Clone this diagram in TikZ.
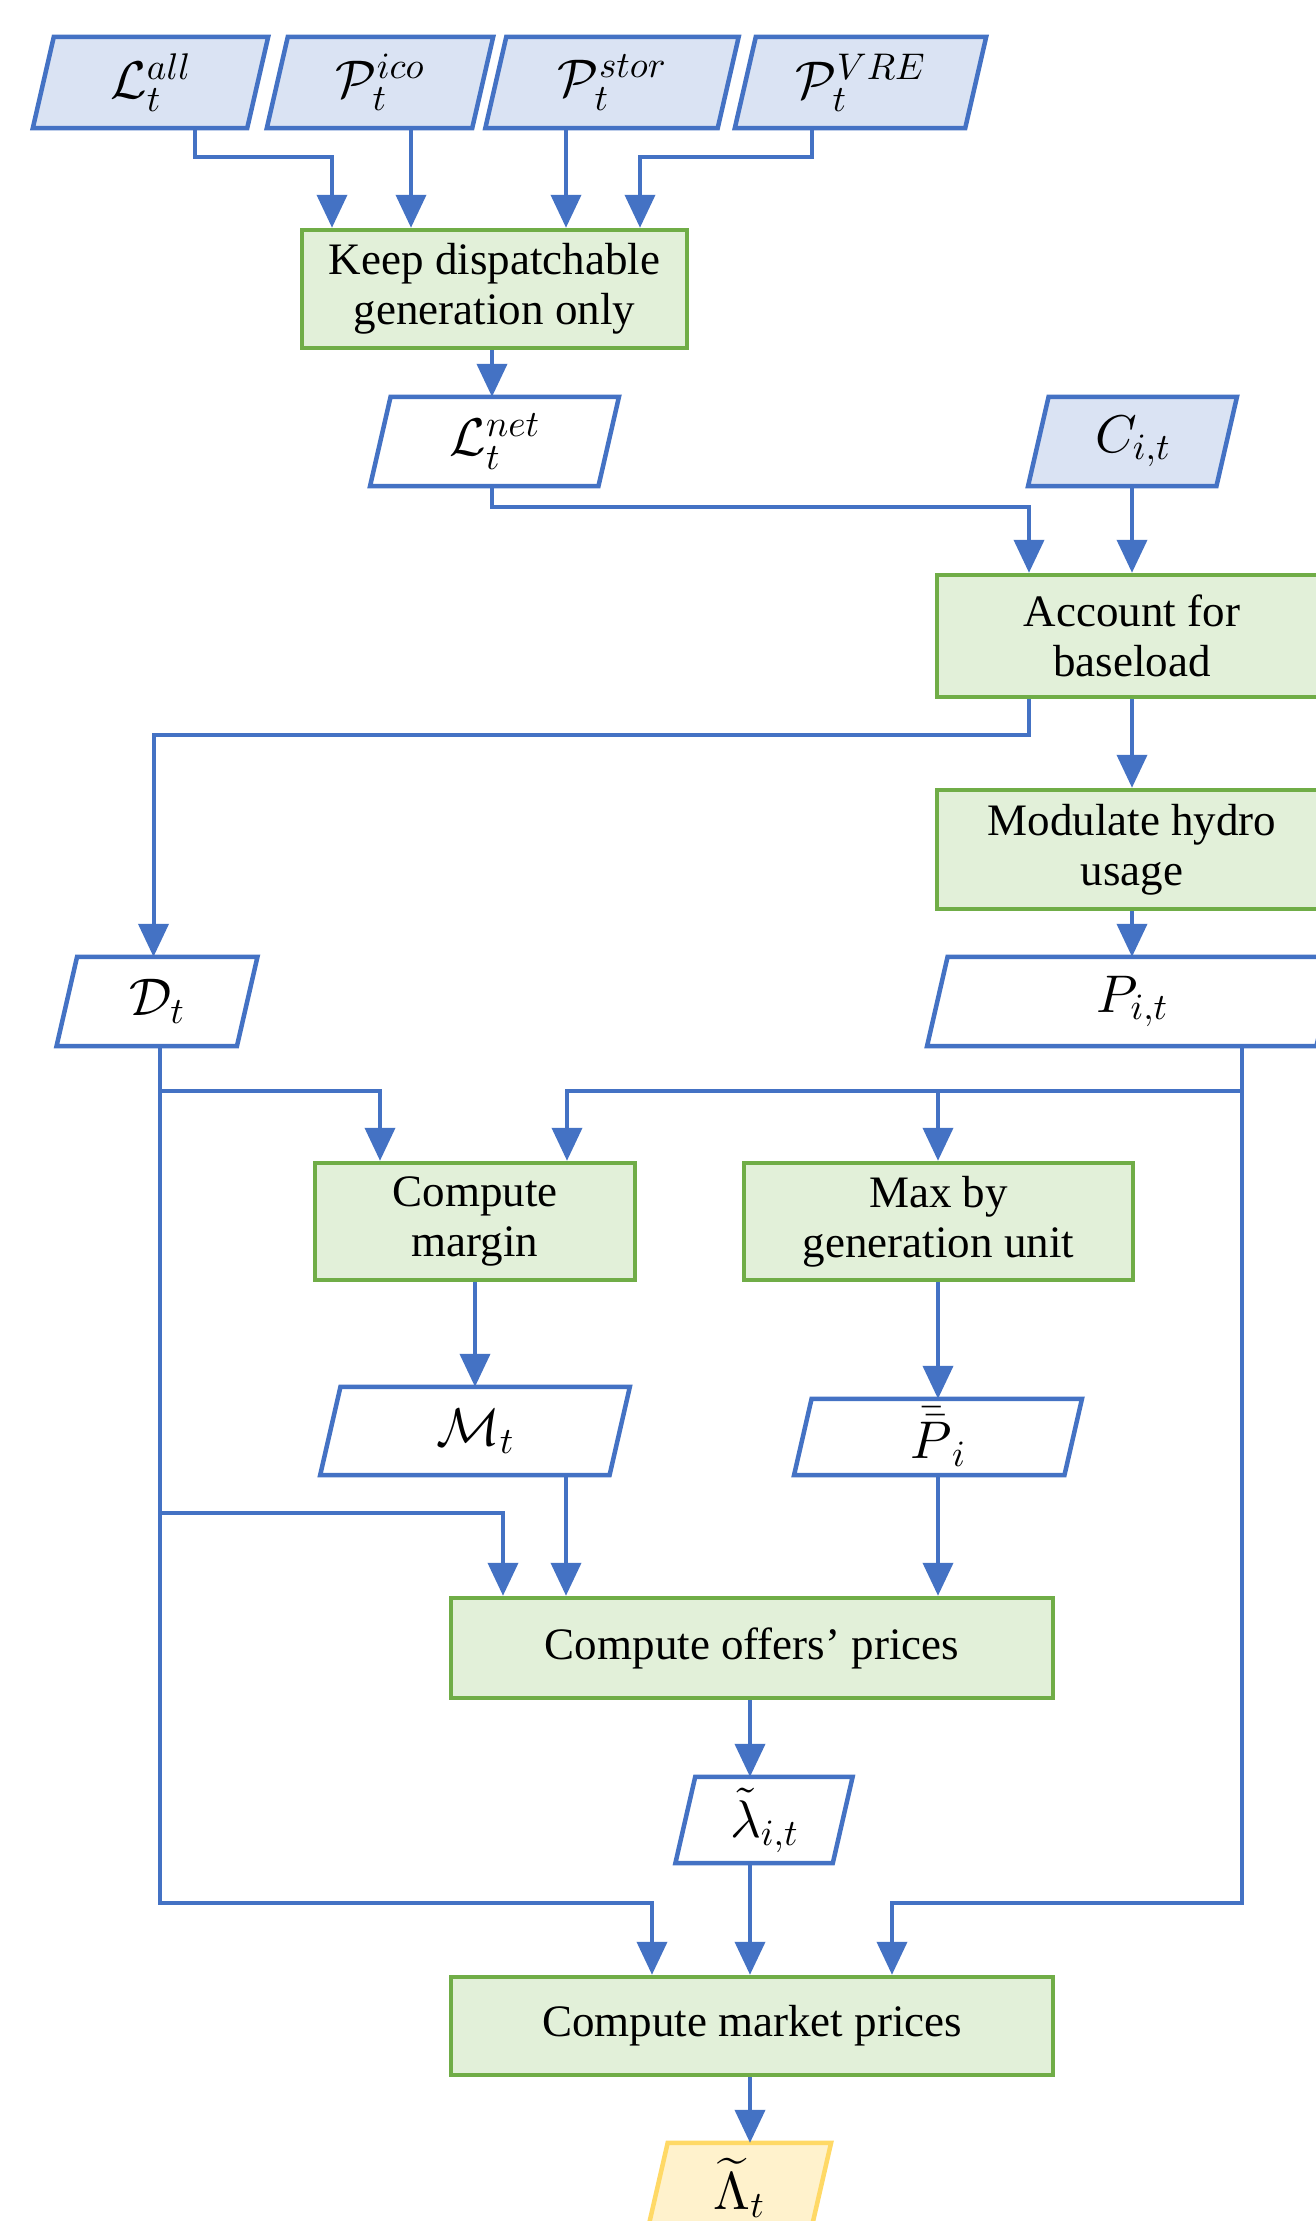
\documentclass[tikz,border=0pt]{standalone}
\DeclareFontShape{OML}{cmm}{m}{it}{<->cmmi10}{}
\DeclareFontShape{OMS}{cmsy}{m}{n}{<->cmsy10}{}
\DeclareFontShape{OT1}{cmr}{m}{n}{<->cmr10}{}
\DeclareFontShape{OMX}{cmex}{m}{n}{<->cmex10}{}
\usepackage{fontspec}
\setmainfont{Liberation Serif}
\usetikzlibrary{arrows.meta}
\definecolor{cblue}{HTML}{4472C4}
\definecolor{lblue}{HTML}{DAE3F3}
\definecolor{cgreen}{HTML}{70AD47}
\definecolor{lgreen}{HTML}{E2F0D9}
\definecolor{cyellow}{HTML}{FFD966}
\definecolor{lyellow}{HTML}{FFF2CC}
\tikzset{
  txt/.style={inner sep=0pt, align=center, font=\fontsize{53}{58}\selectfont},
  conn/.style={draw=cblue, line width=4pt, -{Triangle[width=30pt,length=33pt]}},
  proc/.style={draw=cgreen, fill=lgreen, line width=4.5pt, inner sep=0pt, align=center, font=\fontsize{45}{50}\selectfont},
  inbox/.style={draw=cblue, fill=lblue, line width=4.5pt},
  outbox/.style={draw=cblue, fill=white, line width=4.5pt},
  finbox/.style={draw=cyellow, fill=lyellow, line width=4.5pt},
}
\newcommand\paranode[7]{%
  \path (#2,#3) coordinate (#1-c);
  \node[inner sep=0pt, minimum width=#4pt, minimum height=#5pt] (#1) at (#1-c) {};
  \draw[#6] ([xshift={-0.1154*#5}]#1.south west) -- ([xshift={-0.1154*#5}]#1.south east)
     -- ([xshift={0.1154*#5}]#1.north east) -- ([xshift={0.1154*#5}]#1.north west) -- cycle;
  \node[txt] (#1-t) at (#1-c) {#7};
}
\begin{document}
\begin{tikzpicture}[x=1pt,y=-1pt]
\useasboundingbox (0,0) rectangle (1315,2221);
\fill[white] (0,0) rectangle (1315,2221);
% columns
\coordinate (cA) at (194.5,0);
\coordinate (cB) at (332,0);
\coordinate (cC) at (411,0);
\coordinate (cD) at (566,0);
\coordinate (cE) at (812,0);
\coordinate (cF) at (640,0);
\coordinate (cG) at (492,0);
\coordinate (cH) at (1029,0);
\coordinate (cI) at (1132,0);
\coordinate (cJ) at (153.5,0);
\coordinate (cK) at (159.5,0);
\coordinate (cL) at (380,0);
\coordinate (cM) at (567,0);
\coordinate (cN) at (938,0);
\coordinate (cO) at (1242,0);
\coordinate (cP) at (475,0);
\coordinate (cQ) at (566,0);
\coordinate (cR) at (503,0);
\coordinate (cS) at (750,0);
\coordinate (cT) at (652,0);
\coordinate (cU) at (892,0);
% rows
\coordinate (r1) at (0,157);
\coordinate (r2) at (0,507);
\coordinate (r3) at (0,735);
\coordinate (r4) at (0,1091);
\coordinate (r5) at (0,1513);
\coordinate (r6) at (0,1903);
% nodes
\paranode{Lall}{150.5}{82.5}{214}{91}{inbox}{$\mathcal{L}_t^{all}$}
\paranode{Pico}{380}{82.5}{205}{91}{inbox}{$\mathcal{P}_t^{ico}$}
\paranode{Pstor}{612}{82.5}{232}{91}{inbox}{$\mathcal{P}_t^{stor}$}
\paranode{Pvre}{860.5}{82.5}{230}{91}{inbox}{$\mathcal{P}_t^{VRE}$}
\node[proc, minimum width=385pt, minimum height=118pt] (Keep) at (494.5,289) {Keep dispatchable\\generation only};
\paranode{Lnet}{494.5}{441.5}{228}{89}{outbox}{$\mathcal{L}_t^{net}$}
\paranode{Cit}{1132.5}{441.5}{188}{89}{inbox}{$C_{i,t}$}
\node[proc, minimum width=390pt, minimum height=122pt] (Account) at (1132,636) {Account for\\baseload};
\node[proc, minimum width=390pt, minimum height=119pt] (Modulate) at (1132,849.5) {Modulate hydro\\usage};
\paranode{Dt}{157}{1001.5}{180}{89}{outbox}{$\mathcal{D}_t$}
\paranode{Pit}{1132}{1001.5}{389}{89}{outbox}{$P_{i,t}$}
\node[proc, minimum width=320pt, minimum height=117pt] (Margin) at (475,1221.5) {Compute\\margin};
\node[proc, minimum width=389pt, minimum height=117pt] (Max) at (938.5,1221.5) {Max by\\generation unit};
\paranode{Mt}{475}{1431}{289}{88}{outbox}{$\mathcal{M}_t$}
\paranode{Pbar}{938}{1437}{270}{76}{outbox}{$\bar{\bar{P}}_i$}
\node[proc, minimum width=602pt, minimum height=100pt] (Offers) at (752,1648) {Compute offers' prices};
\paranode{Lam}{764}{1820}{157}{86}{outbox}{$\tilde{\lambda}_{i,t}$}
\node[proc, minimum width=602pt, minimum height=98pt] (Market) at (752,2026) {Compute market prices};
\paranode{LamT}{739}{2188}{163}{90}{finbox}{$\widetilde{\Lambda}_t$}
% connectors
\draw[conn] (Lall.south -| cA) -- (cA |- r1) -| (Keep.north -| cB);
\draw[conn] (Pico.south -| cC) -- (Keep.north -| cC);
\draw[conn] (Pstor.south -| cD) -- (Keep.north -| cD);
\draw[conn] (Pvre.south -| cE) -- (cE |- r1) -| (Keep.north -| cF);
\draw[conn] (Keep.south -| cG) -- (Lnet.north -| cG);
\draw[conn] (Lnet.south -| cG) -- (cG |- r2) -| (Account.north -| cH);
\draw[conn] (Cit.south -| cI) -- (Account.north -| cI);
\draw[conn] (Account.south -| cH) -- (cH |- r3) -| (Dt.north -| cJ);
\draw[conn] (Account.south -| cI) -- (Modulate.north -| cI);
\draw[conn] (Modulate.south -| cI) -- (Pit.north -| cI);
\draw[conn] (Dt.south -| cK) -- (cK |- r6) -| (Market.north -| cT);
\draw[conn] (cK |- r4) -| (Margin.north -| cL);
\draw[conn] (cK |- r5) -| (Offers.north -| cR);
\draw[conn] (Pit.south -| cO) -- (cO |- r6) -| (Market.north -| cU);
\draw[conn] (cO |- r4) -| (Margin.north -| cM);
\draw[conn] (cN |- r4) -- (Max.north -| cN);
\draw[conn] (Margin.south -| cP) -- (Mt.north -| cP);
\draw[conn] (Max.south -| cN) -- (Pbar.north -| cN);
\draw[conn] (Mt.south -| cQ) -- (Offers.north -| cQ);
\draw[conn] (Pbar.south -| cN) -- (Offers.north -| cN);
\draw[conn] (Offers.south -| cS) -- (Lam.north -| cS);
\draw[conn] (Lam.south -| cS) -- (Market.north -| cS);
\draw[conn] (Market.south -| cS) -- (LamT.north -| cS);
\end{tikzpicture}
\end{document}
